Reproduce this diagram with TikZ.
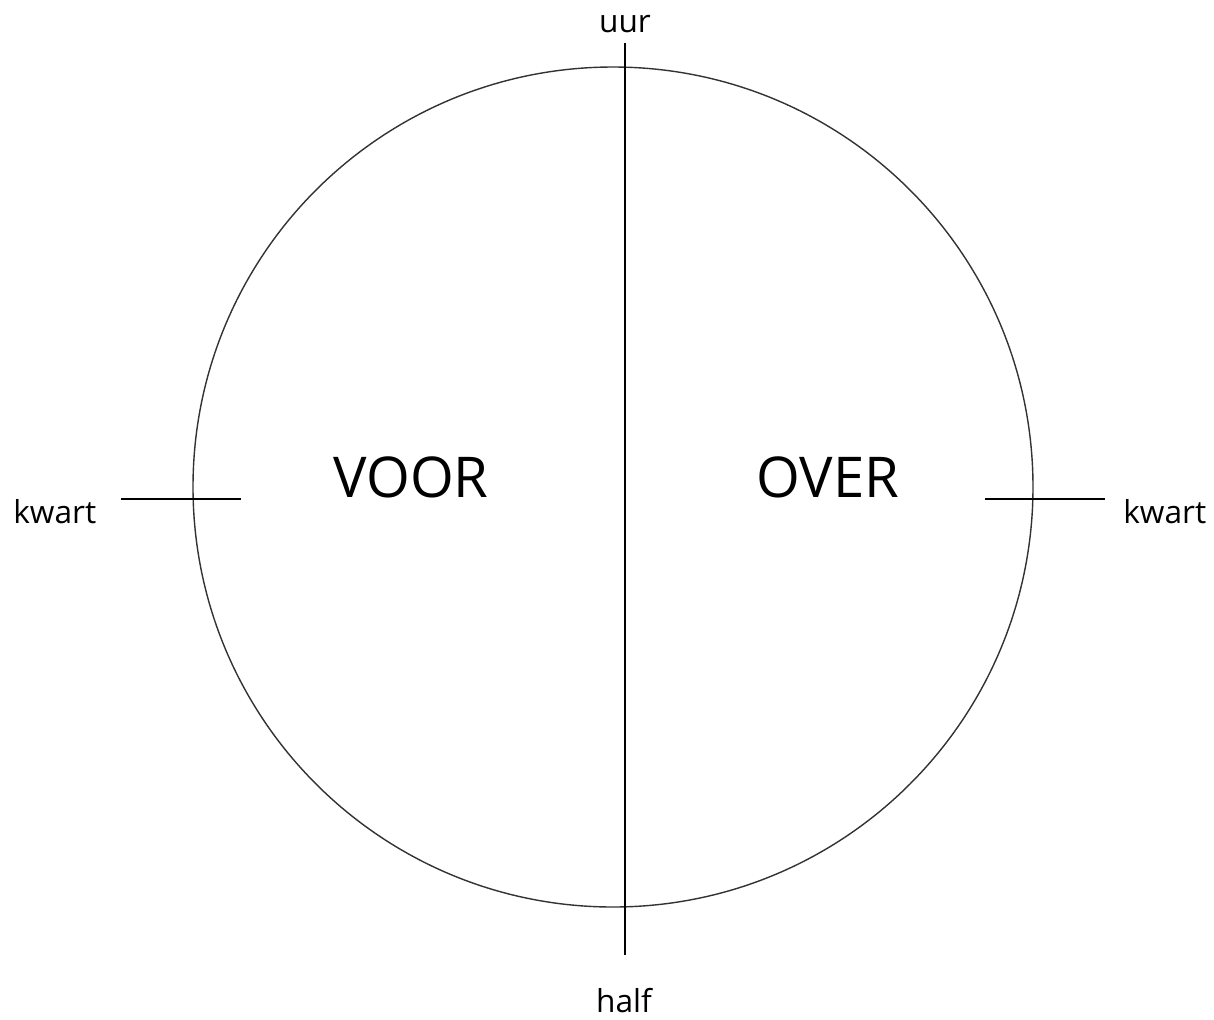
\documentclass[tikz,border=0pt]{standalone}
\usepackage{fontspec}
\setmainfont{Open Sans}
\tikzset{
  label/.style={inner sep=0pt, font=\fontsize{18}{20}\selectfont},
  side/.style={inner sep=0pt, font=\fontsize{32}{36}\selectfont},
  mark line/.style={line width=1.1pt, black},
}
\begin{document}
\begin{tikzpicture}[x=0.02cm, y=-0.02cm]
    \useasboundingbox (0,0) rectangle (1214,1019);

    % Clock face
    \draw[black!80, line width=0.8pt] (613,487) circle (420);

    % Hour axis
    \coordinate (top) at (625,43);
    \coordinate (bottom) at (625,955);
    \draw[mark line] (top) -- (bottom);

    % Quarter ticks
    \coordinate (ql1) at (121,499);
    \coordinate (ql2) at (241,499);
    \coordinate (qr1) at (985,499);
    \coordinate (qr2) at (1105,499);
    \draw[mark line] (ql1) -- (ql2);
    \draw[mark line] (qr1) -- (qr2);

    % Labels
    \node[label, anchor=base] (uur) at (625,32) {uur};
    \node[label, anchor=base] (half) at (624,1012) {half};
    \node[label, anchor=base west] (kwartL) at (13,523) {kwart};
    \node[label, anchor=base west] (kwartR) at (1123,523) {kwart};
    \node[side, anchor=base] (voor) at (411,497) {VOOR};
    \node[side, anchor=base] (over) at (828,497) {OVER};
\end{tikzpicture}
\end{document}
